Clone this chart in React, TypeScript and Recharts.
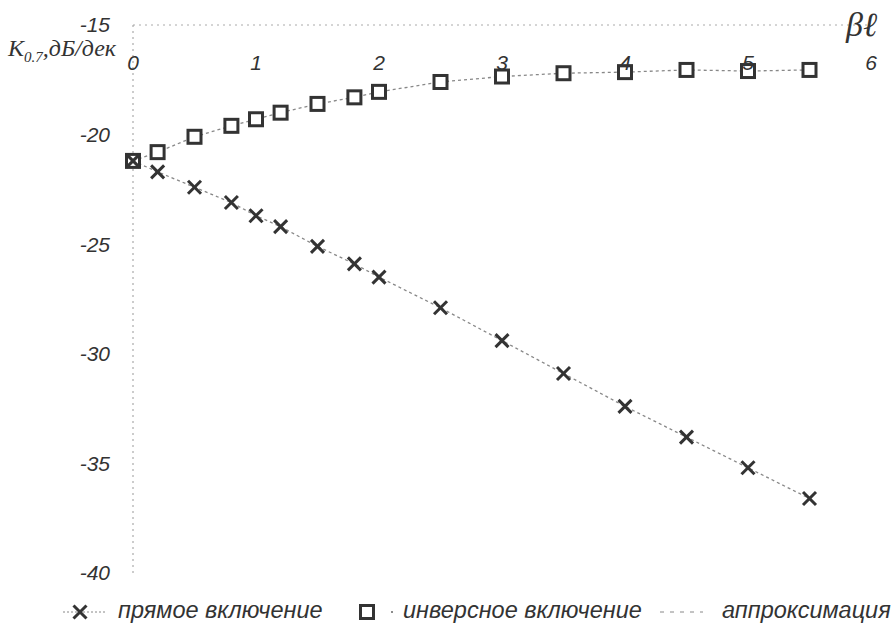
import { ComposedChart, Line, XAxis, YAxis } from "recharts";

// βℓ values and K0.7 (дБ/дек)
const xDirect = [0, 0.2, 0.5, 0.8, 1, 1.2, 1.5, 1.8, 2, 2.5, 3, 3.5, 4, 4.5, 5, 5.5];
const kDirect = [-21.2, -21.7, -22.4, -23.1, -23.7, -24.2, -25.1, -25.9, -26.5, -27.9, -29.4, -30.9, -32.4, -33.8, -35.2, -36.6];
const xInverse = [0, 0.2, 0.5, 0.8, 1, 1.2, 1.5, 1.8, 2, 2.5, 3, 3.5, 4, 4.5, 5, 5.5];
const kInverse = [-21.2, -20.8, -20.1, -19.6, -19.3, -19.0, -18.6, -18.3, -18.05, -17.6, -17.35, -17.2, -17.15, -17.05, -17.1, -17.05];
const xTicks = [0, 1, 2, 3, 4, 5, 6];
const yTicks = [-15, -20, -25, -30, -35, -40];

const directData = xDirect.map((x, i) => ({ x, k: kDirect[i] }));
const inverseData = xInverse.map((x, i) => ({ x, k: kInverse[i] }));

const ink = "#333";
const tickFont = { fontFamily: "Liberation Sans, Arial, sans-serif", fontStyle: "italic", fontSize: 21, fill: ink };

function CrossDot(props: any) {
    const { cx, cy, index } = props;
    if (cx == null || cy == null) return null;
    const s = 6.5;
    return (
        <g key={`cross-${index}`}>
            <line x1={cx - s} y1={cy - s} x2={cx + s} y2={cy + s} stroke={ink} strokeWidth={3} />
            <line x1={cx - s} y1={cy + s} x2={cx + s} y2={cy - s} stroke={ink} strokeWidth={3} />
        </g>
    );
}

function SquareDot(props: any) {
    const { cx, cy, index } = props;
    if (cx == null || cy == null) return null;
    const s = 6.5;
    return <rect key={`sq-${index}`} x={cx - s} y={cy - s} width={s * 2} height={s * 2} fill="#fff" stroke={ink} strokeWidth={3} />;
}

const legendText: React.CSSProperties = {
    position: "absolute",
    top: 597,
    fontFamily: "Liberation Sans, Arial, sans-serif",
    fontStyle: "italic",
    fontSize: 23.5,
    color: ink,
    whiteSpace: "nowrap",
};

export default function App() {
    return (
        <div style={{ position: "absolute", left: 0, top: 0, width: 894, height: 632, background: "#fff" }}>
            <ComposedChart width={894} height={632} margin={{ top: 25, right: 23, bottom: 59, left: 73 }}>
                <XAxis
                    type="number"
                    dataKey="x"
                    domain={[0, 6]}
                    ticks={xTicks}
                    orientation="top"
                    mirror
                    tickLine={false}
                    tickSize={0}
                    tickMargin={30}
                    axisLine={{ stroke: "#aaa", strokeDasharray: "2 4" }}
                    tick={tickFont}
                />
                <YAxis
                    type="number"
                    domain={[-40, -15]}
                    ticks={yTicks}
                    width={60}
                    tickLine={false}
                    tickSize={0}
                    tickMargin={23}
                    axisLine={{ stroke: "#999", strokeDasharray: "2 4" }}
                    tick={tickFont}
                />
                <Line
                    data={inverseData}
                    dataKey="k"
                    stroke="#888"
                    strokeWidth={1.3}
                    strokeDasharray="3 3"
                    dot={(p: any) => <SquareDot key={`s-${p.index}`} {...p} />}
                    isAnimationActive={false}
                />
                <Line
                    data={directData}
                    dataKey="k"
                    stroke="#888"
                    strokeWidth={1.3}
                    strokeDasharray="3 3"
                    dot={(p: any) => <CrossDot key={`c-${p.index}`} {...p} />}
                    isAnimationActive={false}
                />
            </ComposedChart>

            <div style={{ position: "absolute", left: 8, top: 36, lineHeight: "24px", fontFamily: "Liberation Serif, serif", fontStyle: "italic", fontSize: 24, color: ink, whiteSpace: "nowrap" }}>
                K<sub style={{ fontSize: 15, lineHeight: 0 }}>0.7</sub>,дБ/дек
            </div>
            <div style={{ position: "absolute", left: 846, top: 6, fontFamily: "Liberation Serif, serif", fontStyle: "italic", fontSize: 34, color: ink }}>
                βℓ
            </div>

            <svg style={{ position: "absolute", left: 0, top: 600 }} width={894} height={24}>
                <line x1={63} y1={12} x2={105} y2={12} stroke="#888" strokeDasharray="2 2" />
                <CrossDot cx={80} cy={12} index={0} />
                <SquareDot cx={367} cy={12} index={0} />
                <circle cx={392} cy={12} r={1} fill="#666" />
                <line x1={660} y1={12} x2={703} y2={12} stroke="#888" strokeDasharray="4 6" />
            </svg>
            <div style={{ ...legendText, left: 118 }}>прямое включение</div>
            <div style={{ ...legendText, left: 403 }}>инверсное включение</div>
            <div style={{ ...legendText, left: 722 }}>аппроксимация</div>
        </div>
    );
}
